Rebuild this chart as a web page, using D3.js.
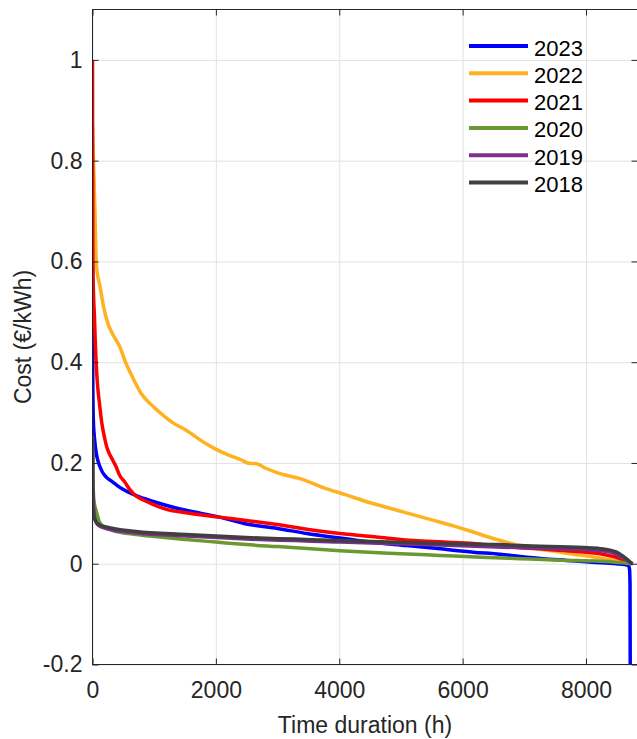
<!DOCTYPE html>
<html>
<head>
<meta charset="utf-8">
<script src="https://cdn.jsdelivr.net/npm/d3@7"></script>
<style>
  body { margin: 0; background: #fff; }
  svg { display: block; font-family: "Liberation Sans", Arial, sans-serif; }
  .grid line { stroke: #e2e2e2; stroke-width: 1; }
  .grid path { display: none; }
  .axis path { display: none; }
  .axis line { stroke: #262626; }
  .axis text { fill: #262626; font-size: 23px; }
</style>
</head>
<body>
<svg width="637" height="739"></svg>
<script>
// duration curves, [hour, €/kWh]
const years = ['2023', '2022', '2021', '2020', '2019', '2018'];

const cost2023 = [[0, 0.78], [2, 0.5], [5, 0.36], [15, 0.28], [32, 0.25], [60, 0.22], [87, 0.205],
  [113, 0.195], [160, 0.182], [222, 0.172], [330, 0.162], [437, 0.152], [708, 0.135], [1000, 0.123],
  [1248, 0.114], [1518, 0.106], [2058, 0.0925], [2490, 0.079], [3000, 0.07], [3474, 0.060],
  [4014, 0.051], [4500, 0.043], [5094, 0.036], [5600, 0.03], [6174, 0.023], [6607, 0.019],
  [6931, 0.0145], [7300, 0.01], [7688, 0.0066], [8100, 0.003], [8498, 0.0], [8686, -0.003],
  [8705, -0.01], [8714, -0.04], [8718, -0.25]];

const cost2022 = [[0, 0.87], [20, 0.78], [40, 0.7], [60, 0.6], [80, 0.575], [113, 0.556], [180, 0.51],
  [249, 0.477], [330, 0.455], [437, 0.432], [546, 0.397], [650, 0.37], [789, 0.338], [950, 0.316],
  [1113, 0.298], [1300, 0.28], [1518, 0.265], [1843, 0.238], [1989, 0.228], [2200, 0.216],
  [2393, 0.207], [2556, 0.199], [2637, 0.199], [2800, 0.19], [2988, 0.181], [3414, 0.167],
  [3743, 0.151], [4100, 0.137], [4500, 0.121], [4824, 0.110], [5148, 0.099], [5500, 0.087],
  [5850, 0.075], [6120, 0.065], [6498, 0.050], [6769, 0.041], [7000, 0.034], [7400, 0.026],
  [7800, 0.019], [8100, 0.014], [8390, 0.008], [8600, 0.004], [8740, 0.0]];

const cost2021 = [[0, 1.0], [2, 0.8], [6, 0.6], [15, 0.54], [32, 0.49], [45, 0.44], [60, 0.397],
  [85, 0.35], [113, 0.318], [150, 0.28], [194, 0.251], [235, 0.23], [275, 0.218], [330, 0.205],
  [384, 0.192], [437, 0.176], [518, 0.163], [600, 0.148], [708, 0.134], [850, 0.125], [978, 0.118],
  [1200, 0.108], [1518, 0.101], [2058, 0.0925], [2490, 0.086], [3000, 0.078], [3500, 0.068],
  [4014, 0.060], [4600, 0.053], [5202, 0.046], [5700, 0.043], [6174, 0.040], [6600, 0.035],
  [6900, 0.032], [7300, 0.029], [7800, 0.025], [8227, 0.020], [8450, 0.014], [8600, 0.008],
  [8700, 0.003], [8750, 0.0]];

const cost2020 = [[0, 0.24], [5, 0.18], [15, 0.14], [30, 0.12], [60, 0.105], [113, 0.083], [200, 0.072],
  [330, 0.066], [708, 0.058], [1000, 0.054], [1518, 0.048], [2000, 0.043], [2490, 0.038],
  [3000, 0.034], [4014, 0.026], [4800, 0.021], [5634, 0.0165], [6300, 0.013], [6931, 0.010],
  [7600, 0.007], [8227, 0.005], [8600, 0.002], [8760, 0.0]];

const cost2019 = [[0, 0.25], [5, 0.16], [15, 0.12], [40, 0.09], [87, 0.077], [222, 0.07], [708, 0.061],
  [1518, 0.055], [2490, 0.049], [4014, 0.043], [5634, 0.037], [6877, 0.032], [7957, 0.028],
  [8390, 0.023], [8551, 0.015], [8686, 0.005], [8760, 0.0]];

const cost2018 = [[0, 0.255], [3, 0.2], [6, 0.112], [20, 0.095], [50, 0.085], [87, 0.079], [222, 0.073],
  [708, 0.064], [1518, 0.058], [2490, 0.052], [4014, 0.046], [5634, 0.040], [6607, 0.038],
  [6931, 0.036], [7957, 0.032], [8227, 0.030], [8390, 0.027], [8498, 0.023], [8600, 0.015],
  [8686, 0.007], [8740, 0.0]];

const series = [cost2023, cost2022, cost2021, cost2020, cost2019, cost2018];
const colors = ['#0000ff', '#ffb21f', '#ff0000', '#6a9a2f', '#7e2f8e', '#3f3f3f'];

const xTicks = [0, 2000, 4000, 6000, 8000];
const yTicks = [-0.2, 0, 0.2, 0.4, 0.6, 0.8, 1];

const plotLeft = 92.5, plotRight = 637.5, plotTop = 9.5, plotBottom = 664.5;

const svg = d3.select('svg');

const x = d3.scaleLinear().domain([0, 8835]).range([plotLeft, plotRight]);
const y = d3.scaleLinear().domain([-0.2, 1.1]).range([plotBottom, plotTop]);

// grid
svg.append('g')
    .attr('class', 'grid')
    .attr('transform', `translate(0,${plotBottom})`)
    .call(d3.axisBottom(x).tickValues(xTicks).tickSize(-(plotBottom - plotTop)).tickFormat(''));
svg.append('g')
    .attr('class', 'grid')
    .attr('transform', `translate(${plotLeft},0)`)
    .call(d3.axisLeft(y).tickValues(yTicks).tickSize(-(plotRight - plotLeft)).tickFormat(''));

svg.append('defs').append('clipPath')
    .attr('id', 'plot')
  .append('rect')
    .attr('x', plotLeft).attr('y', plotTop)
    .attr('width', plotRight - plotLeft).attr('height', plotBottom - plotTop);

const line = d3.line()
    .x(d => x(d[0]))
    .y(d => y(d[1]))
    .curve(d3.curveMonotoneX);

svg.append('g')
    .attr('clip-path', 'url(#plot)')
  .selectAll('path')
  .data(series)
  .join('path')
    .attr('fill', 'none')
    .attr('stroke', (d, i) => colors[i])
    .attr('stroke-width', 3.5)
    .attr('stroke-linejoin', 'round')
    .attr('d', line);

// axes, ticks pointing inward
const fmtY = d => d === 0 ? '0' : String(+d.toFixed(1));
svg.append('g')
    .attr('class', 'axis')
    .attr('transform', `translate(0,${plotBottom})`)
    .call(d3.axisBottom(x).tickValues(xTicks).tickSize(-6).tickSizeOuter(0).tickPadding(17).tickFormat(d3.format('d')));
svg.append('g')
    .attr('class', 'axis')
    .attr('transform', `translate(${plotLeft},0)`)
    .call(d3.axisLeft(y).tickValues(yTicks).tickSize(-6).tickSizeOuter(0).tickPadding(10).tickFormat(fmtY));
svg.append('g')
    .attr('class', 'axis')
    .attr('transform', `translate(0,${plotTop})`)
    .call(d3.axisTop(x).tickValues(xTicks).tickSize(-6).tickSizeOuter(0).tickFormat(''));
svg.append('g')
    .attr('class', 'axis')
    .attr('transform', `translate(${plotRight},0)`)
    .call(d3.axisRight(y).tickValues(yTicks).tickSize(-6).tickSizeOuter(0).tickFormat(''));

svg.append('rect')
    .attr('x', plotLeft).attr('y', plotTop)
    .attr('width', plotRight - plotLeft).attr('height', plotBottom - plotTop)
    .attr('fill', 'none')
    .attr('stroke', '#262626')
    .attr('stroke-width', 1);

// axis titles
svg.append('text')
    .attr('x', (plotLeft + plotRight) / 2)
    .attr('y', 733)
    .attr('text-anchor', 'middle')
    .attr('font-size', 23)
    .attr('fill', '#262626')
    .text('Time duration (h)');

svg.append('text')
    .attr('transform', `translate(31,${(plotTop + plotBottom) / 2}) rotate(-90)`)
    .attr('text-anchor', 'middle')
    .attr('font-size', 23)
    .attr('fill', '#262626')
    .text('Cost (€/kWh)');

// legend
const legend = svg.append('g')
  .selectAll('g')
  .data(years)
  .join('g')
    .attr('transform', (d, i) => `translate(0,${46 + i * 27.3})`);
legend.append('line')
    .attr('x1', 469).attr('x2', 528)
    .attr('stroke', (d, i) => colors[i])
    .attr('stroke-width', 4);
legend.append('text')
    .attr('x', 534)
    .attr('y', 9.5)
    .attr('font-size', 22)
    .attr('fill', '#000')
    .text(d => d);
</script>
</body>
</html>
